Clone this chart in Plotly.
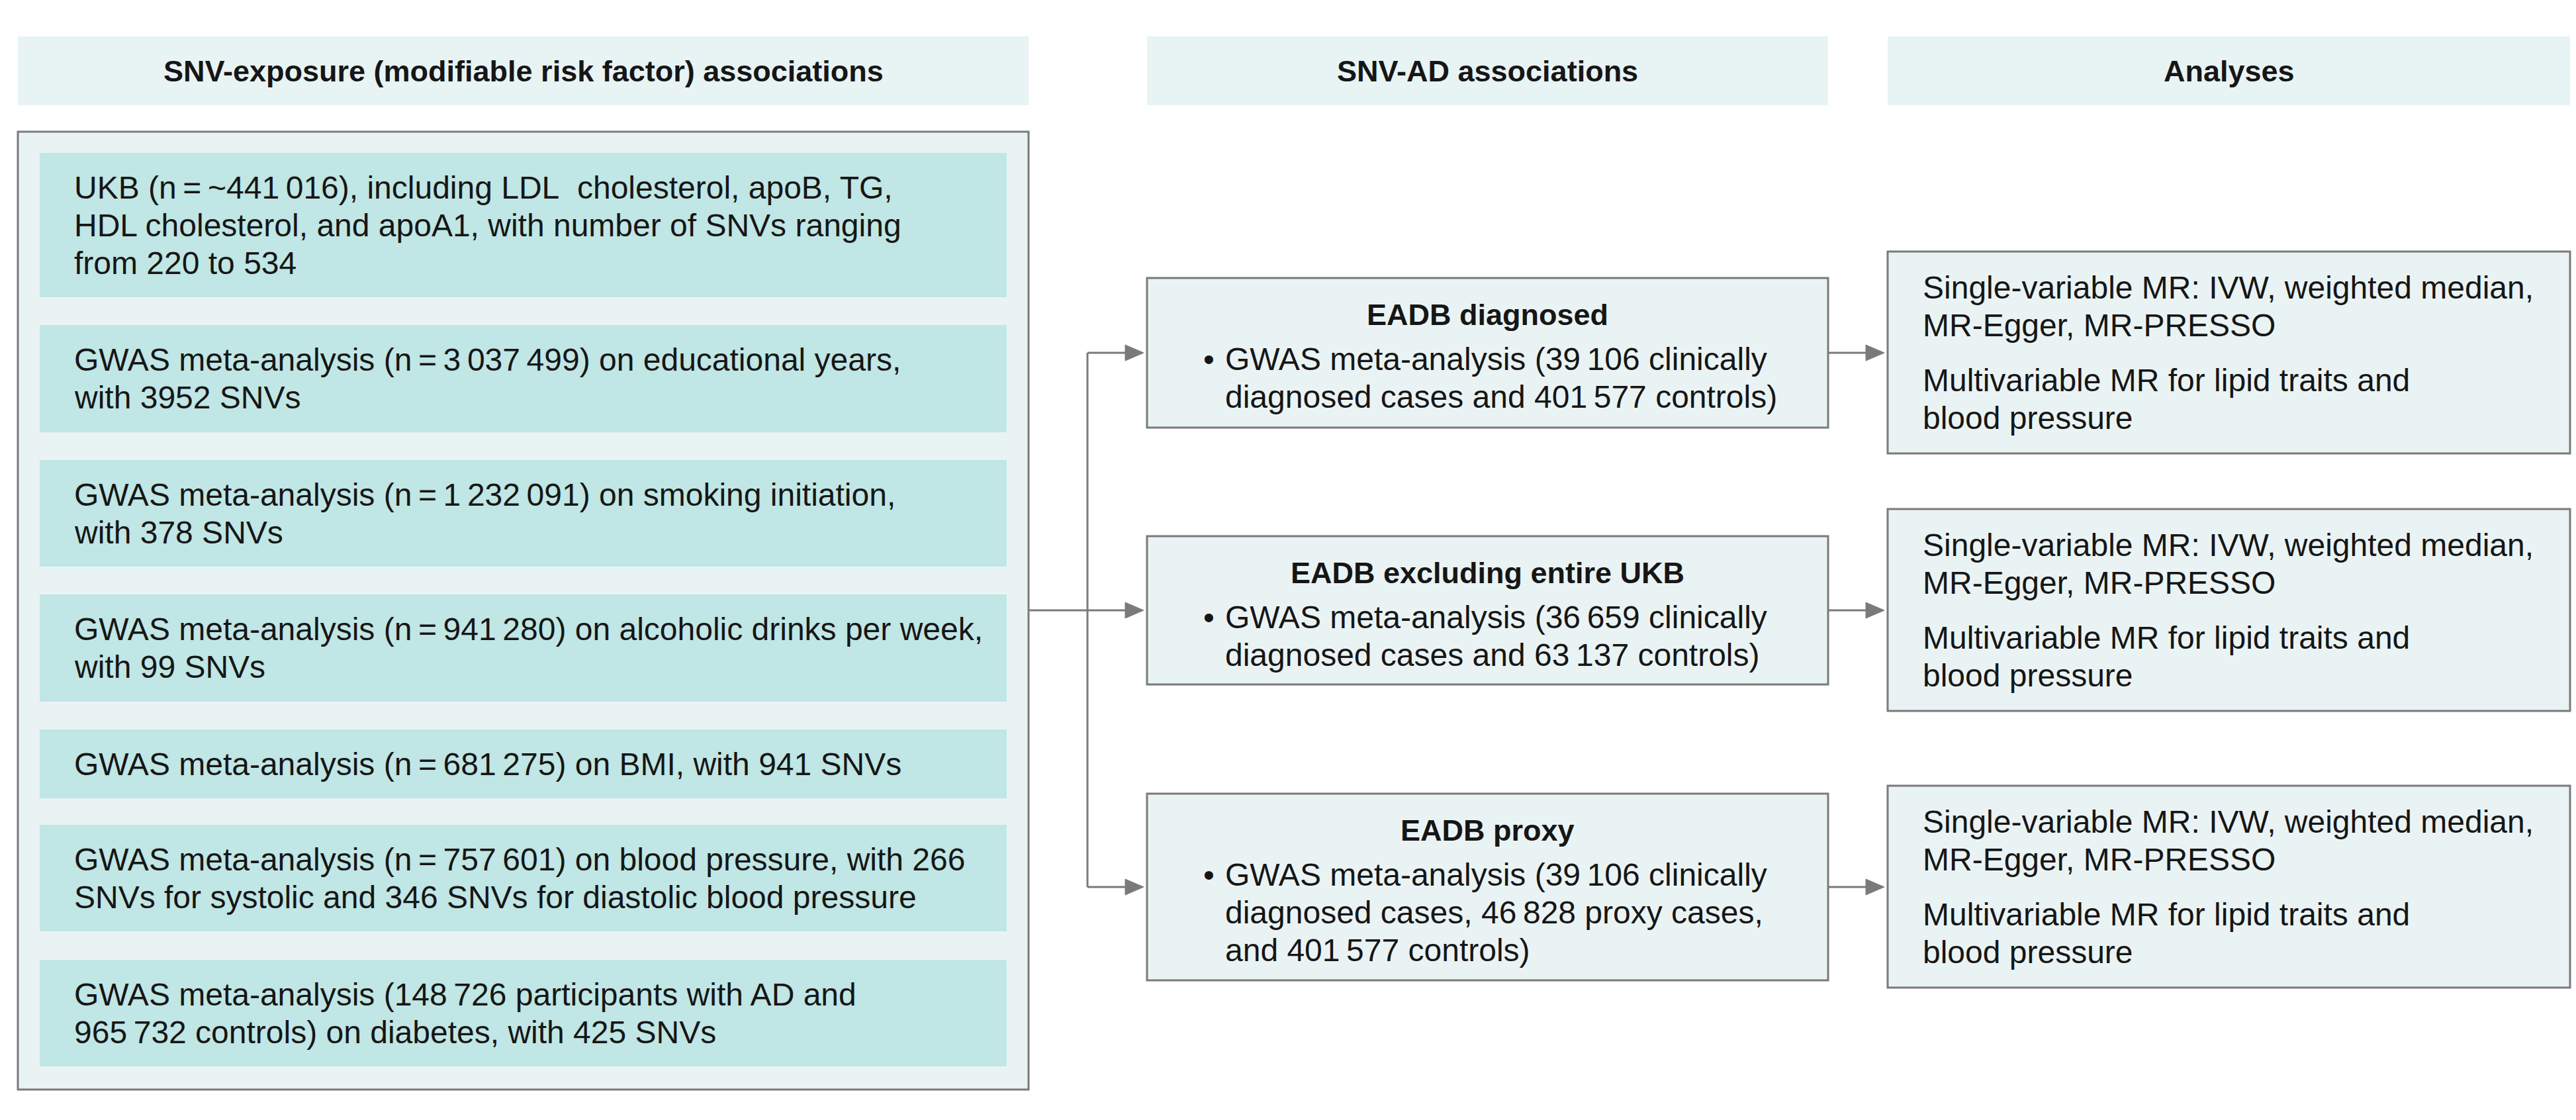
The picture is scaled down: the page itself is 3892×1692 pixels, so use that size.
import plotly.graph_objects as go

# ---------------- data (texts) ----------------
T = "\u2009"  # thin space used in numbers
column_headers = [
    "SNV-exposure (modifiable risk factor) associations",
    "SNV-AD associations",
    "Analyses",
]
exposure_lines = [
    [f"UKB (n{T}={T}~441{T}016), including LDL\u00a0 cholesterol, apoB, TG,",
     "HDL cholesterol, and apoA1, with number of SNVs ranging",
     "from 220 to 534"],
    [f"GWAS meta-analysis (n{T}={T}3{T}037{T}499) on educational years,",
     "with 3952 SNVs"],
    [f"GWAS meta-analysis (n{T}={T}1{T}232{T}091) on smoking initiation,",
     "with 378 SNVs"],
    [f"GWAS meta-analysis (n{T}={T}941{T}280) on alcoholic drinks per week,",
     "with 99 SNVs"],
    [f"GWAS meta-analysis (n{T}={T}681{T}275) on BMI, with 941 SNVs"],
    [f"GWAS meta-analysis (n{T}={T}757{T}601) on blood pressure, with 266",
     "SNVs for systolic and 346 SNVs for diastolic blood pressure"],
    [f"GWAS meta-analysis (148{T}726 participants with AD and",
     f"965{T}732 controls) on diabetes, with 425 SNVs"],
]
outcome_titles = ["EADB diagnosed", "EADB excluding entire UKB", "EADB proxy"]
outcome_lines = [
    [f"GWAS meta-analysis (39{T}106 clinically",
     f"diagnosed cases and 401{T}577 controls)"],
    [f"GWAS meta-analysis (36{T}659 clinically",
     f"diagnosed cases and 63{T}137 controls)"],
    [f"GWAS meta-analysis (39{T}106 clinically",
     f"diagnosed cases, 46{T}828 proxy cases,",
     f"and 401{T}577 controls)"],
]
analysis_paragraphs = [
    ["Single-variable MR: IVW, weighted median,", "MR-Egger, MR-PRESSO"],
    ["Multivariable MR for lipid traits and", "blood pressure"],
]

# ---------------- layout geometry & styles ----------------
W, H = 3892, 1692
FONT = "Liberation Sans, Arial, sans-serif"
FS = 48
HFS = 45
LS = 57
TXT = "#161616"
HEAD_FILL = "#E8F3F4"
BOX_FILL = "#EAF3F4"
INNER_FILL = "#C0E6E5"
EDGE = "#7A7A7A"
EW = 3

HEAD_Y = (55, 159)
HEAD_X = [(27, 1554), (1733, 2762), (2852, 3883)]
OUTER = (27, 1554, 199, 1646)
INNER_X = (60, 1521)
INNER_Y = [(231, 449), (491, 653), (695, 856), (898, 1060),
           (1102, 1206), (1246, 1407), (1450, 1611)]
MID_X = (1733, 2762)
MID_Y = [(420, 646), (810, 1034), (1199, 1481)]
RIGHT_X = (2852, 3883)
RIGHT_Y = [(380, 685), (769, 1074), (1187, 1492)]
BRANCH_X = 1643
AH_L, AH_W = 28, 12

shapes = []
annotations = []


def rect(x0, x1, y0, y1, fill, line=None):
    shapes.append(dict(type="rect", xref="x", yref="y", x0=x0, x1=x1, y0=y0, y1=y1,
                       fillcolor=fill,
                       line=dict(color=line or fill, width=EW if line else 0),
                       layer="below"))


def text(x, y, s, anchor="left", bold=False, size=FS):
    annotations.append(dict(x=x, y=y, xref="x", yref="y", text=s, showarrow=False,
                            xanchor=anchor, yanchor="middle", align=anchor,
                            font=dict(family=FONT, size=size, color=TXT,
                                      weight="bold" if bold else "normal")))


def seg(x0, y0, x1, y1):
    shapes.append(dict(type="line", xref="x", yref="y", x0=x0, y0=y0, x1=x1, y1=y1,
                       line=dict(color=EDGE, width=EW)))


def arrow(x0, x1, y):
    seg(x0, y, x1 - AH_L + 2, y)
    shapes.append(dict(type="path", xref="x", yref="y",
                       path=f"M {x1} {y} L {x1-AH_L} {y-AH_W} L {x1-AH_L} {y+AH_W} Z",
                       fillcolor=EDGE, line=dict(color=EDGE, width=1)))


# headers
for (x0, x1), h in zip(HEAD_X, column_headers):
    rect(x0, x1, HEAD_Y[0], HEAD_Y[1], HEAD_FILL)
    text((x0 + x1) / 2, (HEAD_Y[0] + HEAD_Y[1]) / 2, h, anchor="center", bold=True, size=HFS)

# left column
rect(OUTER[0], OUTER[1], OUTER[2], OUTER[3], BOX_FILL, EDGE)
for (y0, y1), lines in zip(INNER_Y, exposure_lines):
    rect(INNER_X[0], INNER_X[1], y0, y1, INNER_FILL)
    c = (y0 + y1) / 2
    n = len(lines)
    for i, s in enumerate(lines):
        text(110, c + (i - (n - 1) / 2) * LS, s)

# middle column
for (y0, y1), title, lines in zip(MID_Y, outcome_titles, outcome_lines):
    rect(MID_X[0], MID_X[1], y0, y1, BOX_FILL, EDGE)
    text((MID_X[0] + MID_X[1]) / 2, y0 + 55, title, anchor="center", bold=True, size=HFS)
    for i, s in enumerate(lines):
        yy = y0 + 122 + i * LS
        if i == 0:
            text(1826, yy, "\u2022", anchor="center")
        text(1849, yy, s)

# right column
for (y0, y1) in RIGHT_Y:
    rect(RIGHT_X[0], RIGHT_X[1], y0, y1, BOX_FILL, EDGE)
    yy = y0 + 54
    for p, para in enumerate(analysis_paragraphs):
        for s in para:
            text(2903, yy, s)
            yy += LS
        yy += 26

# connectors
mid_c = [(a + b) / 2 for a, b in MID_Y]
seg(OUTER[1], mid_c[1], BRANCH_X, mid_c[1])
seg(BRANCH_X, mid_c[0], BRANCH_X, mid_c[2])
for c in mid_c:
    arrow(BRANCH_X, MID_X[0] - 5, c)
    arrow(MID_X[1], RIGHT_X[0] - 5, c)

fig = go.Figure()
fig.update_layout(
    width=W, height=H, margin=dict(l=0, r=0, t=0, b=0),
    paper_bgcolor="white", plot_bgcolor="white",
    xaxis=dict(range=[0, W], visible=False, fixedrange=True),
    yaxis=dict(range=[H, 0], visible=False, fixedrange=True),
    shapes=shapes, annotations=annotations, showlegend=False,
)
fig.write_html("out.html", config={"displayModeBar": False},
               post_script="document.body.style.margin='0';document.body.style.overflow='hidden';")
